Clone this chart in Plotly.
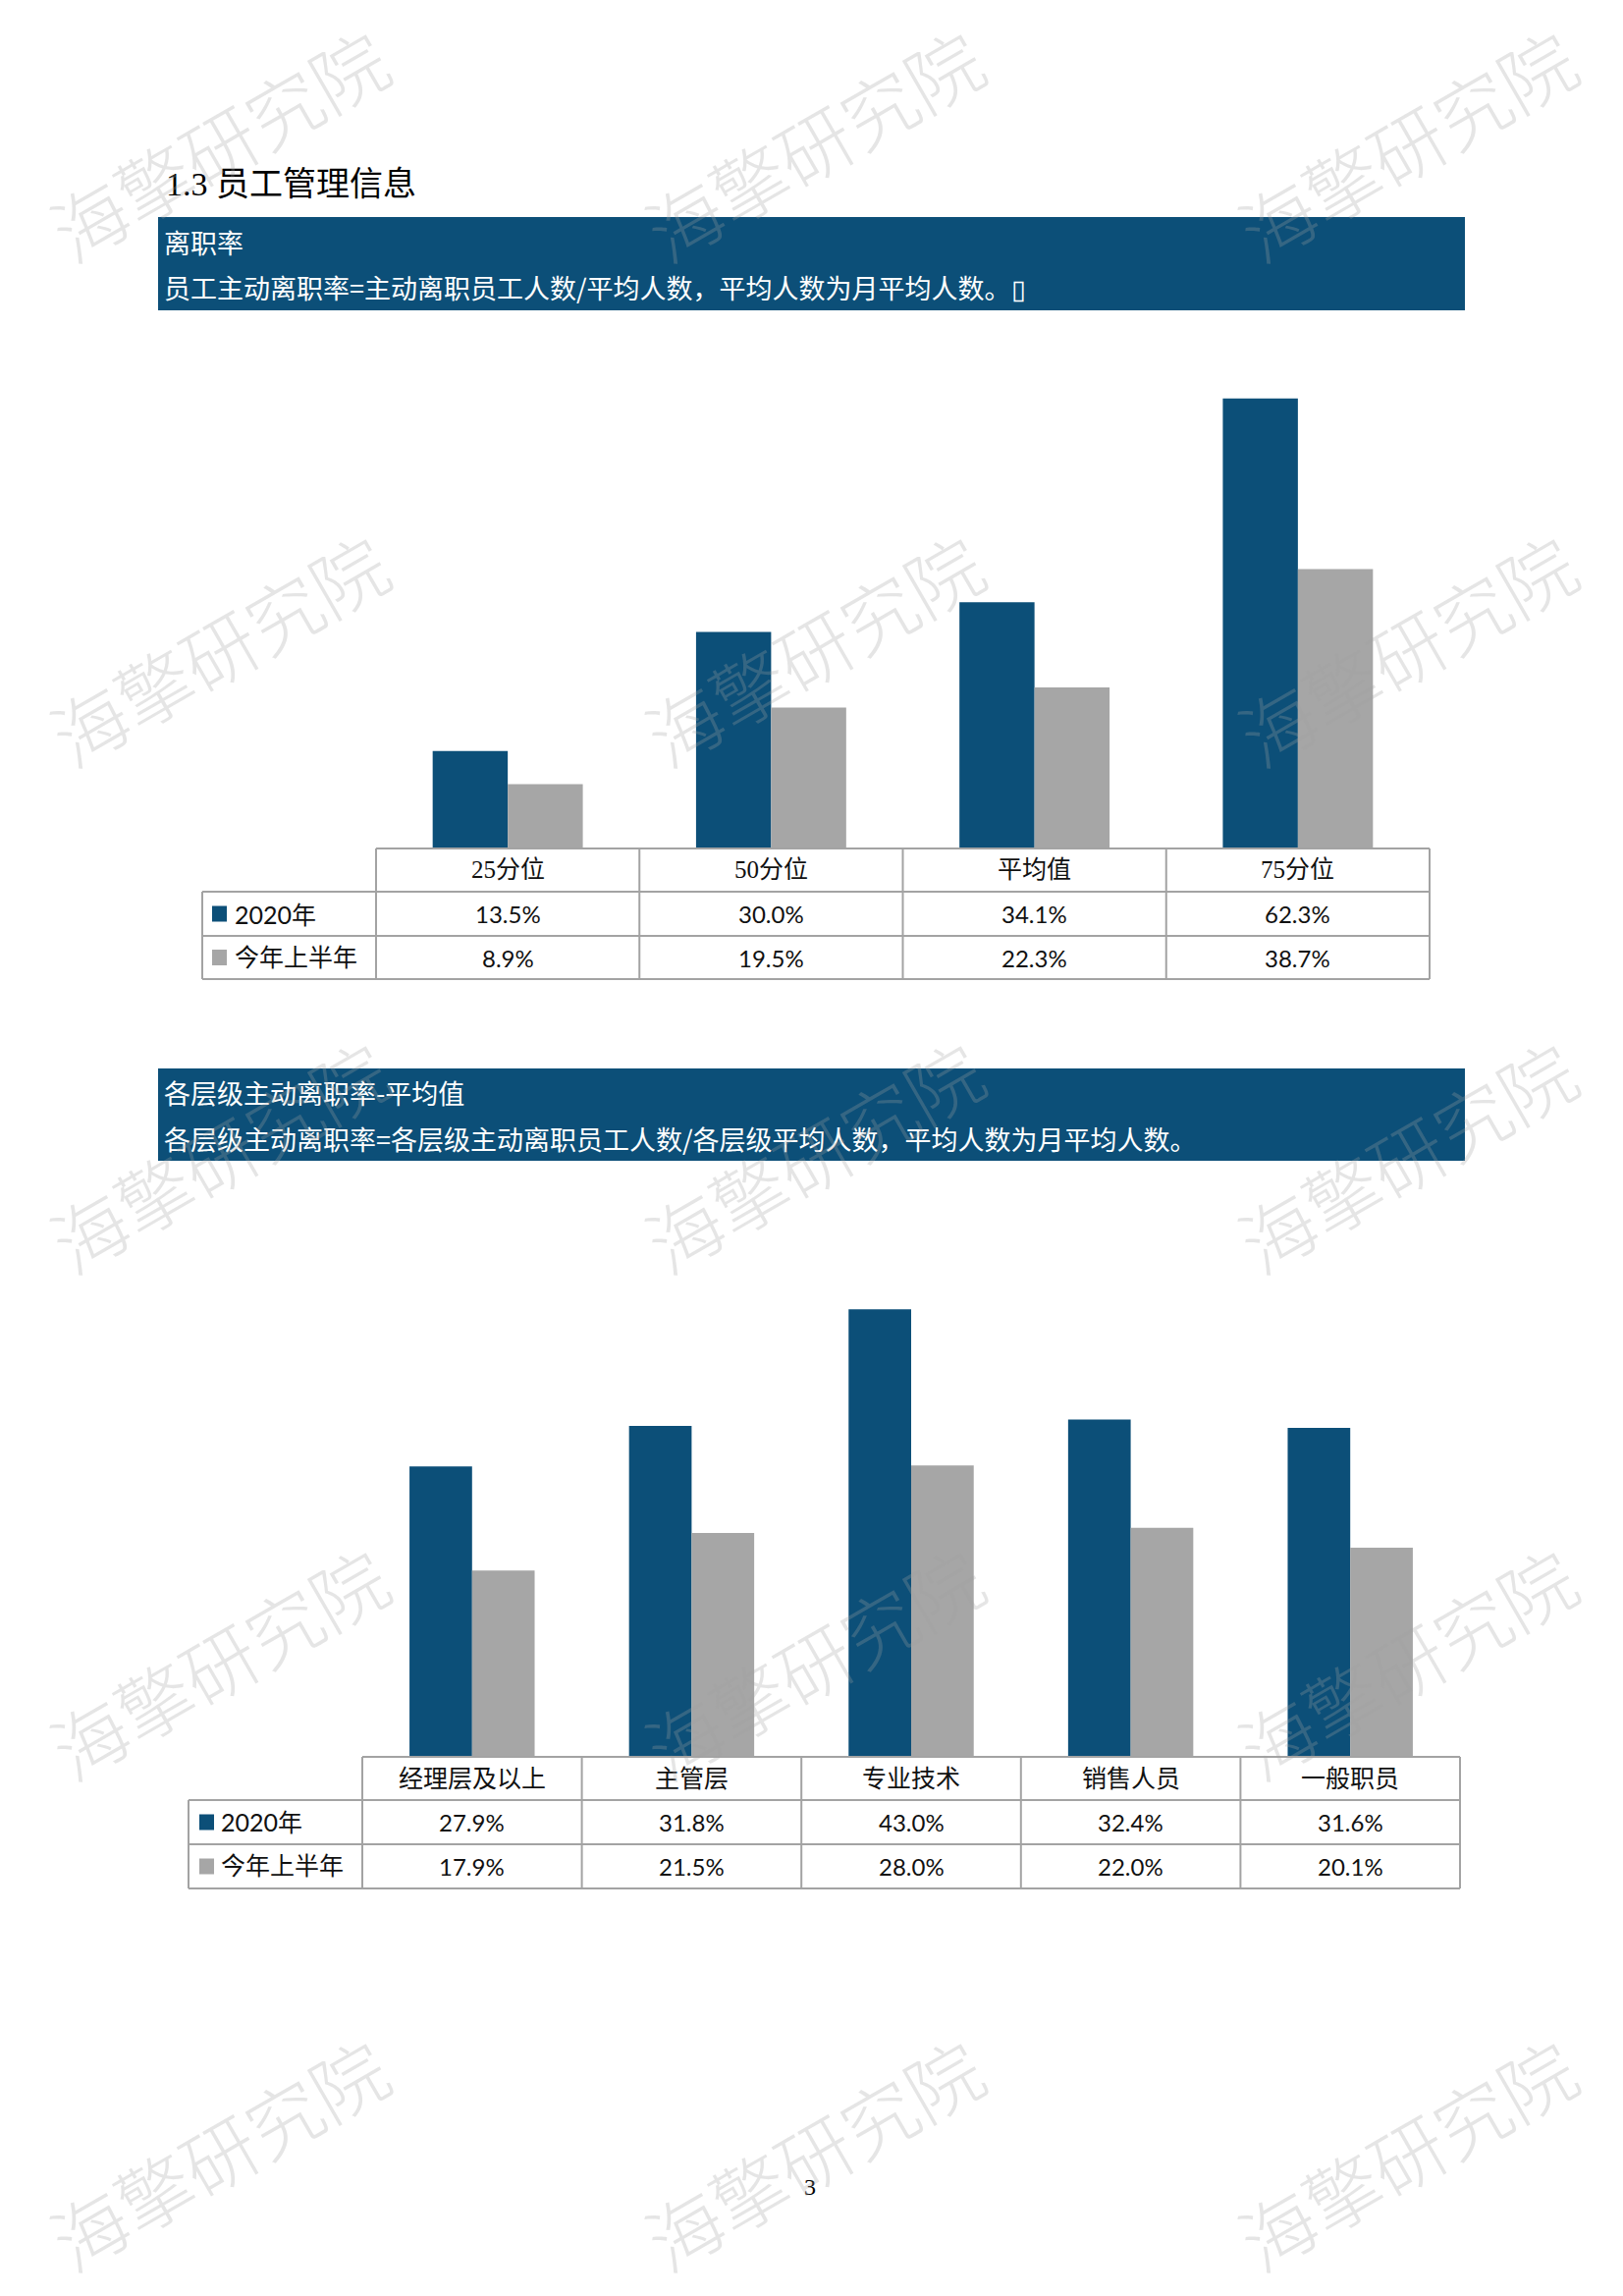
import plotly.graph_objects as go

# ---------------- data ----------------
cats1 = ["25分位", "50分位", "平均值", "75分位"]
rate2020_1 = [13.5, 30.0, 34.1, 62.3]
rateH1_1 = [8.9, 19.5, 22.3, 38.7]

cats2 = ["经理层及以上", "主管层", "专业技术", "销售人员", "一般职员"]
rate2020_2 = [27.9, 31.8, 43.0, 32.4, 31.6]
rateH1_2 = [17.9, 21.5, 28.0, 22.0, 20.1]

series_names = ["2020年", "今年上半年"]

title_text = "1.3 员工管理信息"
banner1_lines = ["离职率", "员工主动离职率=主动离职员工人数/平均人数，平均人数为月平均人数。▯"]
banner2_lines = ["各层级主动离职率-平均值", "各层级主动离职率=各层级主动离职员工人数/各层级平均人数，平均人数为月平均人数。"]
watermark = "海擎研究院"
page_no = "3"

# ---------------- style ----------------
W, H = 1653, 2338
BLUE = "#0C4F78"
GRAY = "#A6A6A6"
LINE = "#A3A3A3"
SANS = "Lato, Noto Sans CJK SC, sans-serif"
SERIF = "Liberation Serif, Noto Sans CJK SC, serif"
CJK = "Noto Sans CJK SC, sans-serif"


def px(x):
    return x / W


def py(y):
    return 1 - y / H


fig = go.Figure()
fig.add_trace(go.Bar(x=cats1, y=rate2020_1, name=series_names[0], marker=dict(color=BLUE, line=dict(width=0)),
                     xaxis="x", yaxis="y", showlegend=False, hoverinfo="skip"))
fig.add_trace(go.Bar(x=cats1, y=rateH1_1, name=series_names[1], marker=dict(color=GRAY, line=dict(width=0)),
                     xaxis="x", yaxis="y", showlegend=False, hoverinfo="skip"))
fig.add_trace(go.Bar(x=cats2, y=rate2020_2, name=series_names[0], marker=dict(color=BLUE, line=dict(width=0)),
                     xaxis="x2", yaxis="y2", showlegend=False, hoverinfo="skip"))
fig.add_trace(go.Bar(x=cats2, y=rateH1_2, name=series_names[1], marker=dict(color=GRAY, line=dict(width=0)),
                     xaxis="x2", yaxis="y2", showlegend=False, hoverinfo="skip"))

shapes = []
annotations = []


def note(text, x, y, font, xref="paper", xanchor="center", **kw):
    d = dict(text=text, xref=xref, yref="paper", x=x, y=y, xanchor=xanchor, yanchor="middle",
             showarrow=False, font=font)
    d.update(kw)
    annotations.append(d)


def banner(y0, y1, lines, ty):
    shapes.append(dict(type="rect", xref="paper", yref="paper", x0=px(161), x1=px(1492),
                       y0=py(y1), y1=py(y0), fillcolor=BLUE, line=dict(width=0), layer="below"))
    for t, yy in zip(lines, ty):
        note(t, px(165), py(yy), dict(family=CJK, size=27, color="white"), xanchor="left")


def data_table(xref, cats, series, lab_x, x0, x1, rows, sq_x, text_x):
    top, r1, r2, bot = rows
    n = len(cats)
    cw = (x1 - x0) / n
    ln = dict(color=LINE, width=2)
    shapes.append(dict(type="line", xref="paper", yref="paper", x0=px(x0), x1=px(x1), y0=py(top), y1=py(top), line=ln))
    for yy in (r1, r2, bot):
        shapes.append(dict(type="line", xref="paper", yref="paper", x0=px(lab_x), x1=px(x1), y0=py(yy), y1=py(yy), line=ln))
    for i in range(n + 1):
        xx = x0 + i * cw
        shapes.append(dict(type="line", xref="paper", yref="paper", x0=px(xx), x1=px(xx), y0=py(top), y1=py(bot), line=ln))
    shapes.append(dict(type="line", xref="paper", yref="paper", x0=px(lab_x), x1=px(lab_x), y0=py(r1), y1=py(bot), line=ln))
    for c in cats:
        note(c, c, py((top + r1) / 2), dict(family=SERIF, size=25, color="#111"), xref=xref)
    for k, (name, vals, col) in enumerate(series):
        ya, yb = (r1, r2) if k == 0 else (r2, bot)
        yc = (ya + yb) / 2
        shapes.append(dict(type="rect", xref="paper", yref="paper", x0=px(sq_x), x1=px(sq_x + 15),
                           y0=py(yc + 8), y1=py(yc - 8), fillcolor=col, line=dict(width=0)))
        note(name, px(text_x), py(yc), dict(family=SANS if k == 0 else SERIF, size=25, color="#111"),
             xanchor="left")
        for c, v in zip(cats, vals):
            note(f"{v:.1f}%", c, py(yc), dict(family=SANS, size=24, color="#111"), xref=xref)


note(title_text, px(167), py(188), dict(family=SERIF, size=34, color="black"), xanchor="left")

banner(221, 316, banner1_lines, [246, 292])
banner(1088, 1182, banner2_lines, [1112, 1160])

data_table("x", cats1, [(series_names[0], rate2020_1, BLUE), (series_names[1], rateH1_1, GRAY)],
           206, 383, 1456, [864, 908, 953, 997], 216, 237)
data_table("x2", cats2, [(series_names[0], rate2020_2, BLUE), (series_names[1], rateH1_2, GRAY)],
           192, 369, 1487, [1789, 1833, 1878, 1923], 203, 223)

note(page_no, px(825), py(2227), dict(family=SERIF, size=24, color="black"))

for cy in [146, 660, 1176, 1692, 2192]:
    for cx in [222, 828, 1432]:
        note(watermark, px(cx), py(cy), dict(family=CJK, size=76, color="rgba(160,160,160,0.28)", weight=300),
             textangle=-30)

hidden = dict(showgrid=False, zeroline=False, showticklabels=False, showline=False, ticks="")
fig.update_layout(
    width=W, height=H, margin=dict(l=0, r=0, t=0, b=0),
    paper_bgcolor="white", plot_bgcolor="rgba(0,0,0,0)",
    barmode="group", bargap=0.43, bargroupgap=0,
    xaxis=dict(domain=[px(383), px(1456)], anchor="y", type="category", categoryorder="array",
               categoryarray=cats1, **hidden),
    yaxis=dict(domain=[py(864), py(386)], anchor="x", range=[0, 65], **hidden),
    xaxis2=dict(domain=[px(369), px(1487)], anchor="y2", type="category", categoryorder="array",
                categoryarray=cats2, **hidden),
    yaxis2=dict(domain=[py(1789), py(1312)], anchor="x2", range=[0, 45], **hidden),
    shapes=shapes, annotations=annotations,
)

fig.write_html("out.html")
